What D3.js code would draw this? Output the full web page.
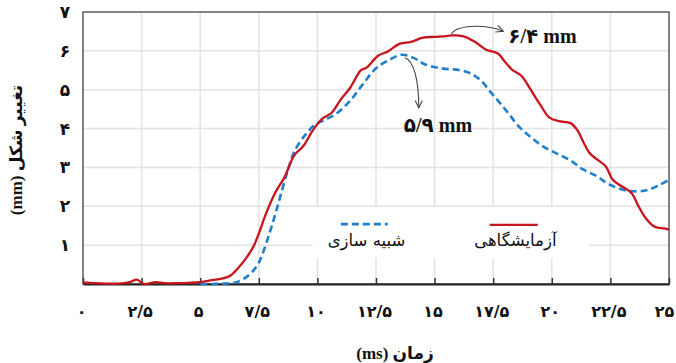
<!DOCTYPE html>
<html>
<head>
<meta charset="utf-8">
<script src="https://cdn.jsdelivr.net/npm/d3@7"></script>
<style>
  html, body { margin: 0; padding: 0; background: #fff; }
  svg { display: block; }
</style>
</head>
<body>
<svg id="chart" width="676" height="363"></svg>
<script>
// Deformation over time: laboratory measurement vs. simulation
const labTime = [0, 0.5, 1, 1.5, 2, 2.3, 2.6, 3.1, 3.5, 4, 4.5, 5, 5.5, 6, 6.3, 6.6, 7, 7.3, 7.5, 7.8,
  8.2, 8.6, 9.0, 9.4, 9.8, 10.2, 10.6, 11.0, 11.4, 11.85, 12.1, 12.6, 13.0, 13.5, 14.0, 14.5, 15.0,
  15.5, 15.8, 16.2, 16.7, 17.2, 17.7, 18.0, 18.3, 18.7, 19.1, 19.5, 19.9, 20.3, 20.8, 21.1, 21.35,
  21.6, 21.9, 22.3, 22.6, 23.0, 23.4, 23.7, 24.0, 24.4, 24.8, 25];
const labValue = [0.04, 0.02, 0.01, 0.01, 0.05, 0.11, 0.0, 0.05, 0.02, 0.02, 0.03, 0.05, 0.1, 0.15, 0.22, 0.4, 0.7, 1.0, 1.3, 1.8,
  2.35, 2.75, 3.3, 3.55, 3.95, 4.25, 4.4, 4.75, 5.05, 5.5, 5.57, 5.88, 5.98, 6.18, 6.23, 6.34, 6.36,
  6.38, 6.4, 6.38, 6.24, 6.03, 5.93, 5.72, 5.52, 5.36, 5.0, 4.62, 4.28, 4.19, 4.14, 3.95, 3.65,
  3.38, 3.22, 3.03, 2.68, 2.51, 2.34, 2.0, 1.7, 1.47, 1.43, 1.4];

const simTime = [5, 5.5, 6, 6.5, 6.9, 7.2, 7.5, 7.9, 8.3, 8.7, 9.05, 9.5, 9.9, 10.3, 10.8, 11.4, 11.95,
  12.5, 13.1, 13.6, 14.1, 14.6, 15.3, 16.1, 16.6, 17.0, 17.4, 17.8, 18.2, 18.6, 19.1, 19.6, 20.2,
  20.8, 21.3, 21.9, 22.4, 23.0, 23.6, 24.1, 24.6, 25];
const simValue = [0, 0, 0.01, 0.04, 0.15, 0.3, 0.55, 1.2, 2.0, 2.85, 3.45, 3.85, 4.1, 4.22, 4.38, 4.72, 5.15,
  5.55, 5.78, 5.9, 5.82, 5.65, 5.55, 5.5, 5.4, 5.22, 4.93, 4.65, 4.35, 4.05, 3.78, 3.55, 3.36,
  3.18, 2.96, 2.78, 2.58, 2.43, 2.38, 2.42, 2.55, 2.68];

const xTicks = [0, 2.5, 5, 7.5, 10, 12.5, 15, 17.5, 20, 22.5, 25];
const xTickLabels = ["۰", "۲/۵", "۵", "۷/۵", "۱۰", "۱۲/۵", "۱۵", "۱۷/۵", "۲۰", "۲۲/۵", "۲۵"];
const yTicks = [1, 2, 3, 4, 5, 6, 7];
const yTickLabels = ["۱", "۲", "۳", "۴", "۵", "۶", "۷"];

const seriesNames = ["آزمایشگاهی", "شبیه سازی"];
const peakLabels = ["۶/۴ mm", "۵/۹ mm"];
const xTitle = "زمان (ms)";
const yTitle = "تغییر شکل (mm)";

const labColor = "#c8141c";
const simColor = "#1f7fcc";

const svg = d3.select("#chart");
const x = d3.scaleLinear().domain([0, 25]).range([83, 669]);
const y = d3.scaleLinear().domain([0, 7]).range([284, 12]);

// grid
const grid = svg.append("g").attr("stroke", "#e3e3e3").attr("stroke-width", 1.5);
grid.selectAll("line.v").data(xTicks.slice(1, -1)).join("line")
  .attr("x1", d => x(d)).attr("x2", d => x(d)).attr("y1", y(0)).attr("y2", y(7));
grid.selectAll("line.h").data(yTicks.slice(0, -1)).join("line")
  .attr("y1", d => y(d)).attr("y2", d => y(d)).attr("x1", x(0)).attr("x2", x(25));

// legend backdrop
const legX0 = x(9.8), legX1 = x(21.6), legY0 = y(1.98), legY1 = y(0.67);
svg.append("rect").attr("x", legX0).attr("y", legY0)
  .attr("width", legX1 - legX0).attr("height", legY1 - legY0).attr("fill", "#fff");

// frame
svg.append("rect").attr("x", x(0)).attr("y", y(7))
  .attr("width", x(25) - x(0)).attr("height", y(0) - y(7))
  .attr("fill", "none").attr("stroke", "#5a5a5a").attr("stroke-width", 1.5);

// x axis with inward ticks
const xAxis = d3.axisBottom(x).tickValues(xTicks).tickSizeInner(-6).tickSizeOuter(0)
  .tickFormat((d, i) => xTickLabels[i]).tickPadding(22);
const gx = svg.append("g").attr("transform", `translate(0,${y(0)})`).call(xAxis);
gx.select(".domain").attr("stroke", "#222").attr("stroke-width", 2);
gx.selectAll(".tick line").attr("stroke", "#333").attr("stroke-width", 1.5);
gx.selectAll(".tick text").attr("font-family", "'DejaVu Sans', sans-serif")
  .attr("font-weight", "bold").attr("font-size", 16).attr("fill", "#111")
  .attr("dx", d => d === 25 ? -5 : -2);

// y axis labels
const yAxis = d3.axisLeft(y).tickValues(yTicks).tickSize(0)
  .tickFormat((d, i) => yTickLabels[i]).tickPadding(14);
const gy = svg.append("g").attr("transform", `translate(${x(0)},0)`).call(yAxis);
gy.select(".domain").remove();
gy.selectAll(".tick text").attr("font-family", "'DejaVu Sans', sans-serif")
  .attr("font-weight", "bold").attr("font-size", 17).attr("fill", "#111")
  .attr("text-anchor", "middle").attr("dx", 0).attr("x", -18);

// lines
const line = d3.line().x(d => x(d[0])).y(d => y(d[1])).curve(d3.curveCatmullRom.alpha(0.5));
const simPts = simTime.map((t, i) => [t, simValue[i]]);
const labPts = labTime.map((t, i) => [t, labValue[i]]);

svg.append("path").datum(simPts).attr("d", line)
  .attr("fill", "none").attr("stroke", simColor).attr("stroke-width", 2.6)
  .attr("stroke-dasharray", "7,4");
svg.append("path").datum(labPts).attr("d", line)
  .attr("fill", "none").attr("stroke", labColor).attr("stroke-width", 2.3);

// legend
const legFont = "'DejaVu Sans', sans-serif";
svg.append("line").attr("x1", x(11.0)).attr("x2", x(13.0)).attr("y1", y(1.54)).attr("y2", y(1.54))
  .attr("stroke", simColor).attr("stroke-width", 2.6).attr("stroke-dasharray", "7,4");
svg.append("text").attr("x", x(13.75)).attr("y", y(0.97)).attr("direction", "rtl")
  .attr("text-anchor", "start").attr("font-family", legFont).attr("font-size", 16.5)
  .attr("fill", "#111").text(seriesNames[1]);
svg.append("line").attr("x1", x(17.35)).attr("x2", x(19.4)).attr("y1", y(1.52)).attr("y2", y(1.52))
  .attr("stroke", labColor).attr("stroke-width", 2.3);
svg.append("text").attr("x", x(20.2)).attr("y", y(0.99)).attr("direction", "rtl")
  .attr("text-anchor", "start").attr("font-family", legFont).attr("font-size", 16.5)
  .attr("fill", "#111").text(seriesNames[0]);

// peak annotations
const defs = svg.append("defs");
defs.append("marker").attr("id", "arrow").attr("viewBox", "0 0 10 10")
  .attr("refX", 9).attr("refY", 5).attr("markerWidth", 9).attr("markerHeight", 9)
  .attr("orient", "auto").attr("markerUnits", "userSpaceOnUse")
  .append("path").attr("d", "M1,1 L9,5 L1,9").attr("fill", "none")
  .attr("stroke", "#444").attr("stroke-width", 1.2);

const labPeakIdx = d3.maxIndex(labValue);
const simPeakIdx = d3.maxIndex(simValue);
const lp = [x(labTime[labPeakIdx]), y(labValue[labPeakIdx])];
const sp = [x(simTime[simPeakIdx]), y(simValue[simPeakIdx])];

svg.append("path")
  .attr("d", `M${lp[0] - 2},${lp[1] - 1} C${lp[0] + 2},${lp[1] - 10} ${lp[0] + 30},${lp[1] - 12} ${lp[0] + 50},${lp[1] - 4}`)
  .attr("fill", "none").attr("stroke", "#444").attr("stroke-width", 1.1)
  .attr("marker-end", "url(#arrow)");
svg.append("path")
  .attr("d", `M${sp[0] + 3},${sp[1] + 3} C${sp[0] + 12},${sp[1] + 6} ${sp[0] + 17},${sp[1] + 25} ${sp[0] + 17},${sp[1] + 53}`)
  .attr("fill", "none").attr("stroke", "#444").attr("stroke-width", 1.1)
  .attr("marker-end", "url(#arrow)");

const annFont = "'Liberation Serif', 'DejaVu Sans', serif";
svg.append("text").attr("x", lp[0] + 55).attr("y", lp[1] + 8)
  .attr("font-family", annFont).attr("font-weight", "bold").attr("font-size", 20)
  .attr("fill", "#111").text(peakLabels[0]);
svg.append("text").attr("x", sp[0] + 2).attr("y", sp[1] + 77)
  .attr("font-family", annFont).attr("font-weight", "bold").attr("font-size", 20)
  .attr("fill", "#111").text(peakLabels[1]);

// axis titles
svg.append("text").attr("x", 395).attr("y", 359).attr("direction", "rtl")
  .attr("text-anchor", "middle").attr("font-family", annFont).attr("font-weight", "bold")
  .attr("font-size", 17).attr("fill", "#111").text(xTitle);
svg.append("text").attr("transform", "translate(22,150) rotate(-90)").attr("direction", "rtl")
  .attr("text-anchor", "middle").attr("font-family", annFont).attr("font-weight", "bold")
  .attr("font-size", 17).attr("fill", "#111").text(yTitle);
</script>
</body>
</html>
